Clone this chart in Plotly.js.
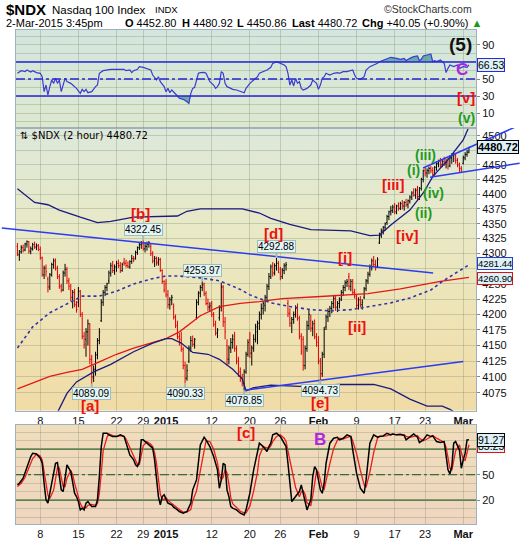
<!DOCTYPE html>
<html>
<head>
<meta charset="utf-8">
<script src="https://cdn.plot.ly/plotly-3.0.1.min.js"></script>
<style>
html,body{margin:0;padding:0;background:#fff;}
#chart{width:520px;height:540px;}
</style>
</head>
<body>
<div id="chart"></div>
<script>
// ---- Trading sessions (2-hour bars: 4 per day, 2 on the half day) ----
const sessionDays = ['2014-12-03','2014-12-04','2014-12-05','2014-12-08','2014-12-09','2014-12-10','2014-12-11','2014-12-12',
  '2014-12-15','2014-12-16','2014-12-17','2014-12-18','2014-12-19','2014-12-22','2014-12-23','2014-12-24','2014-12-26',
  '2014-12-29','2014-12-30','2014-12-31','2015-01-02','2015-01-05','2015-01-06','2015-01-07','2015-01-08','2015-01-09',
  '2015-01-12','2015-01-13','2015-01-14','2015-01-15','2015-01-16','2015-01-20','2015-01-21','2015-01-22','2015-01-23',
  '2015-01-26','2015-01-27','2015-01-28','2015-01-29','2015-01-30','2015-02-02','2015-02-03','2015-02-04','2015-02-05',
  '2015-02-06','2015-02-09','2015-02-10','2015-02-11','2015-02-12','2015-02-13','2015-02-17','2015-02-18','2015-02-19',
  '2015-02-20','2015-02-23','2015-02-24','2015-02-25','2015-02-26','2015-02-27','2015-03-02'];
const halfDays = ['2014-12-24'];

// ---- $NDX 2-hour OHLC ----
const opens = [
4312,4298,4303,4310, 4306,4316,4320,4304, 4308,4315,4311,4313, 4307,4293,4265,4276, 4258,4245,4265,4282,
4288,4276,4262,4246, 4240,4268,4274,4255, 4240,4228,4236,4216, 4220,4238,4200,4165, 4160,4172,4185,4128,
4100,4112,4135,4158, 4190,4220,4236,4244, 4255,4268,4280,4272, 4278,4284,4280,4272, 4285,4284,4280,4278,
4287,4292, 4292,4302,4310,4315, 4316,4308,4312,4316, 4312,4300,4288,4292, 4286,4290,4272,4254,
4250,4232,4216,4224, 4212,4196,4182,4164, 4160,4144,4118,4098, 4125,4146,4158,4152, 4195,4220,4235,4244,
4250,4234,4218,4212, 4218,4200,4184,4170, 4195,4212,4245,4188, 4150,4128,4146,4155, 4165,4145,4125,4108,
4098,4090,4108,4136, 4160,4138,4146,4160, 4172,4186,4200,4210, 4215,4228,4246,4262, 4280,4268,4280,4284,
4268,4262,4272,4280, 4218,4202,4186,4192, 4200,4210,4194,4165, 4160,4118,4145,4182, 4190,4178,4185,4164,
4155,4125,4105,4136, 4180,4196,4205,4210, 4218,4226,4212,4218, 4225,4236,4244,4252, 4262,4246,4254,4236,
4226,4215,4224,4216, 4228,4242,4255,4266, 4278,4288,4282,4278, 4318,4330,4338,4344, 4352,4362,4370,4372,
4378,4370,4380,4376, 4384,4380,4386,4382, 4388,4395,4402,4398, 4408,4396,4410,4425, 4440,4436,4440,4444,
4440,4434,4446,4452, 4456,4450,4456,4452, 4455,4448,4462,4466, 4466,4458,4450,4444, 4452.80,4462,4468,4472];
const highs = [
4318,4306,4314,4315, 4318,4322,4321,4312, 4318,4320,4317,4316, 4312,4295,4280,4282, 4262,4268,4285,4292,
4292,4280,4266,4250, 4272,4283,4278,4260, 4250,4240,4242,4222, 4245,4240,4204,4172, 4178,4192,4186,4135,
4118,4140,4162,4178, 4225,4240,4248,4252, 4272,4285,4288,4282, 4288,4290,4286,4285, 4293,4290,4287,4289,
4298,4296, 4305,4312,4318,4321, 4322.45,4318,4320,4321, 4316,4304,4296,4295, 4294,4293,4274,4256,
4258,4240,4228,4232, 4218,4200,4190,4170, 4172,4148,4124,4120, 4150,4165,4166,4162, 4225,4238,4248,4253.97,
4252,4238,4226,4220, 4222,4204,4190,4178, 4215,4252,4248,4196, 4160,4150,4162,4168, 4172,4150,4132,4115,
4105,4112,4140,4160, 4172,4150,4168,4185, 4190,4205,4218,4222, 4232,4250,4268,4282, 4286,4284,4292.88,4288,
4278,4276,4284,4286, 4224,4210,4196,4205, 4215,4218,4198,4170, 4165,4150,4190,4208, 4200,4190,4192,4170,
4165,4130,4140,4180, 4200,4210,4214,4222, 4232,4230,4222,4228, 4240,4248,4256,4258, 4268,4258,4258,4242,
4232,4228,4230,4225, 4245,4258,4270,4282, 4292,4296,4290,4294, 4335,4342,4346,4352, 4365,4372,4380,4382,
4385,4382,4386,4387, 4390,4388,4392,4391, 4398,4405,4410,4410, 4414,4412,4428,4442, 4446,4444,4447,4448,
4446,4448,4456,4459, 4462,4460,4464,4460, 4462,4466,4470,4472, 4470,4462,4454,4448, 4466,4472,4476,4480.92];
const lows = [
4296,4288,4300,4302, 4304,4310,4300,4299, 4305,4308,4306,4304, 4290,4262,4258,4262, 4236,4240,4262,4275,
4272,4258,4242,4236, 4238,4262,4250,4240, 4222,4210,4212,4203, 4212,4196,4160,4145, 4132,4150,4120,4089.09,
4092,4102,4128,4152, 4188,4214,4230,4238, 4250,4262,4268,4265, 4270,4276,4268,4270, 4280,4277,4276,4275,
4283,4286, 4290,4298,4306,4308, 4305,4302,4305,4310, 4296,4284,4278,4280, 4280,4270,4250,4236,
4228,4210,4208,4215, 4192,4178,4160,4150, 4140,4112,4090.33,4094, 4122,4140,4148,4145, 4192,4215,4228,4238,
4230,4215,4206,4204, 4196,4180,4166,4162, 4190,4205,4180,4160, 4118,4120,4138,4145, 4140,4120,4100,4092,
4085,4078.85,4105,4132, 4130,4118,4140,4155, 4152,4175,4192,4200, 4205,4222,4240,4258, 4262,4264,4272,4268,
4256,4258,4266,4272, 4196,4180,4170,4185, 4195,4190,4160,4135, 4110,4112,4140,4175, 4172,4165,4160,4148,
4120,4094.73,4100,4130, 4175,4188,4196,4202, 4210,4206,4204,4210, 4222,4230,4238,4245, 4240,4238,4232,4226,
4210,4208,4212,4208, 4225,4238,4250,4262, 4272,4278,4272,4276, 4316,4326,4332,4338, 4348,4356,4364,4368,
4366,4366,4372,4373, 4374,4372,4378,4376, 4384,4390,4396,4392, 4388,4390,4406,4420, 4430,4428,4434,4436,
4430,4432,4440,4446, 4444,4446,4448,4444, 4442,4446,4452,4455, 4452,4446,4438,4436, 4450.86,4458,4464,4470];
const closes = [
4298,4303,4310,4306, 4316,4320,4304,4308, 4315,4311,4313,4307, 4293,4265,4276,4270, 4245,4265,4282,4288,
4276,4262,4246,4240, 4268,4274,4255,4246, 4228,4236,4216,4208, 4238,4200,4165,4152, 4172,4185,4128,4100,
4112,4135,4158,4172, 4220,4236,4244,4250, 4268,4280,4272,4278, 4284,4280,4272,4282, 4284,4280,4278,4287,
4292,4290, 4302,4310,4315,4318, 4308,4312,4316,4318, 4300,4288,4292,4284, 4290,4272,4254,4240,
4232,4216,4224,4228, 4196,4182,4164,4155, 4144,4118,4098,4110, 4146,4158,4152,4160, 4220,4235,4244,4248,
4234,4218,4212,4214, 4200,4184,4170,4175, 4212,4245,4188,4172, 4128,4146,4155,4160, 4145,4125,4108,4100,
4090,4108,4136,4155, 4138,4146,4160,4180, 4186,4200,4210,4218, 4228,4246,4262,4278, 4268,4280,4284,4274,
4262,4272,4280,4282, 4202,4186,4192,4200, 4210,4194,4165,4140, 4118,4145,4182,4200, 4178,4185,4164,4150,
4125,4105,4136,4176, 4196,4205,4210,4218, 4226,4212,4218,4222, 4236,4244,4252,4254, 4246,4254,4236,4230,
4215,4224,4216,4220, 4242,4255,4266,4278, 4288,4282,4278,4290, 4330,4338,4344,4350, 4362,4370,4372,4378,
4370,4380,4376,4384, 4380,4386,4382,4389, 4395,4402,4398,4406, 4396,4410,4425,4440, 4436,4440,4444,4441,
4434,4446,4452,4456, 4450,4456,4452,4455, 4448,4462,4466,4468, 4458,4450,4444,4440.67, 4462,4468,4472,4480.72];

// ---- Overlays on price: [bar, value] ----
const upperBand = [[0,4409],[9,4386],[16,4382],[22,4373],[33,4361],[42,4352],[49,4354],[55,4358],[61,4361],[84,4363],
  [89,4371],[96,4375],[118,4375],[127,4368],[133,4359],[143,4349],[154,4340],[175,4338],[185,4330],[190,4331],
  [196,4348],[206,4373],[213,4402],[218,4430],[226,4459],[234,4493],[237,4516]];
const lowerBand = [[17,4020],[22,4049],[26,4074],[31,4092],[40,4108],[49,4120],[61,4140],[71,4154],[78,4161],[81,4161],
  [86,4154],[92,4139],[100,4136],[106,4128],[113,4112],[118,4097],[120,4078],[124,4083],[133,4087],[148,4085],
  [169,4088],[187,4088],[196,4081],[206,4065],[215,4054],[223,4054],[227,4049],[237,4030]];
const maDotted = [[0,4146],[8,4180],[17,4203],[26,4218],[34,4230],[43,4230],[52,4238],[61,4250],[70,4258],[78,4263],
  [85,4263],[96,4260],[106,4255],[117,4241],[122,4232],[133,4219],[143,4213],[154,4208],[164,4206],[175,4208],
  [185,4213],[196,4219],[206,4227],[217,4240],[223,4254],[237,4281.44]];
const maRed = [[0,4081],[8,4091],[17,4101],[26,4107],[34,4112],[43,4124],[52,4136],[61,4146],[70,4154],[78,4161],
  [85,4172],[96,4198],[106,4213],[117,4218],[127,4221],[139,4226],[157,4229],[184,4234],[201,4242],[222,4254],[237,4260.90]];

// ---- Trendlines: [bar, price] endpoints ----
const trendDown = [[-8.2,4343],[218.2,4268]];
const trendUp = [[119,4078.85],[234,4124.5]];
const wedgeTop = [[212.9,4444.7],[263.6,4519]];
const wedgeBottom = [[216.6,4429],[263.6,4453]];

// ---- RSI(14): [bar, value] ----
const rsi = [[0,56.7],[2,59.8],[4,58.6],[5,60.6],[7,58.2],[8,59.8],[10,57.5],[12,56.7],[13,52.7],[14,35.1],[15,42.9],
  [16,31.2],[17,41],[18,48.8],[19,44.9],[20,50.8],[21,44.9],[22,48.8],[23,35.1],[24,42.9],[25,50.8],[26,46.9],[28,44.9],
  [29,42.9],[31,39],[33,33.1],[34,37.8],[35,35.1],[36,37.8],[37,33.9],[39,35.1],[41,41],[42,42.9],[43,56.7],[45,59.8],
  [49,61.4],[52,61.4],[56,61.4],[57,59.8],[59,60.6],[60,57.5],[61,59.8],[63,61.4],[64,64.5],[66,63.7],[68,62.5],[70,60.6],
  [71,54.7],[73,48.8],[74,52.7],[75,46.9],[77,41],[78,35.1],[79,39],[80,33.9],[81,37.1],[82,35.1],[84,30],[85,27.3],
  [87,26.1],[89,23.3],[90,21.4],[91,33.1],[92,39],[93,40.2],[94,48.8],[95,56.7],[96,57.5],[98,57.8],[99,56.7],[100,52.7],
  [101,46.9],[103,42.9],[104,39],[105,41],[106,44.9],[107,58.6],[108,56.7],[109,44.9],[110,41],[112,39],[113,37.8],
  [115,37.1],[117,35.1],[119,33.9],[120,39],[122,44.9],[124,48.8],[126,52.7],[127,56.7],[129,58.6],[131,60.6],[133,63.7],
  [134,68.4],[136,70.4],[138,68.4],[140,66.5],[141,64.5],[142,56.7],[143,42.9],[144,48.8],[145,41.8],[146,50.8],[147,44.9],
  [148,46.9],[149,39],[150,37.1],[152,39],[154,42.9],[155,48.8],[157,44.9],[158,37.8],[159,42.9],[160,50.8],[161,52.7],
  [162,56.7],[164,54.7],[166,56.7],[168,57.5],[169,56.7],[171,58.6],[173,58.6],[175,59.8],[176,60.6],[177,54.7],[178,50.8],
  [180,49.6],[182,52.7],[183,60.6],[185,64.5],[187,66.5],[189,68.4],[190,70.4],[192,72.4],[194,74.3],[196,75.5],[199,74.3],
  [201,73.1],[203,74.3],[204,71.6],[206,74.3],[208,76.3],[210,77.1],[211,71.6],[212,73.1],[213,77.1],[215,78.2],[217,79.4],
  [218,70.4],[219,71.6],[220,70.4],[222,72.4],[224,68.4],[225,57.5],[226,62.5],[227,66.5],[229,64.5],[231,66.5],[232,62.5],
  [234,64.5],[236,63.7],[237,66.53]];

// ---- Slow stochastic %K and %D: [bar, value] ----
const stochK = [[0,38],[1,40],[3,45.9],[5,59.6],[7,71.4],[8,75.3],[10,74.5],[12,69.4],[13,63.5],[14,40],[15,20.4],[16,16.5],
  [17,28.2],[19,47.8],[20,63.5],[21,64.3],[22,47.8],[23,32.2],[24,30.2],[25,47.8],[26,61.6],[28,53.7],[29,40],[30,28.2],
  [31,24.3],[32,18.4],[33,8.6],[34,10.6],[35,8.6],[36,16.5],[37,18.4],[39,12.5],[41,12.5],[42,20.4],[43,47.8],[44,83.1],
  [45,98.8],[47,98.8],[48,96.9],[50,94.9],[52,94.9],[54,96.9],[56,94.9],[57,87.1],[59,73.3],[61,67.5],[62,61.6],[63,59.6],
  [64,65.5],[65,91],[66,91],[68,87.1],[70,83.1],[71,81.2],[72,67.5],[73,43.9],[74,24.3],[75,14.5],[76,24.3],[77,26.3],
  [78,20.4],[79,16.5],[81,14.5],[82,11.8],[84,8.6],[85,6.7],[87,4.7],[89,6.7],[91,16.5],[92,32.2],[94,43.9],[96,85.1],
  [98,94.1],[99,91],[101,83.1],[103,71.4],[105,55.7],[106,34.1],[107,43.9],[108,63.5],[109,61.6],[110,32.2],[111,24.3],
  [112,12.5],[113,10.6],[115,8.6],[117,4.7],[119,2.7],[120,8.6],[122,28.2],[124,55.7],[126,75.3],[127,87.1],[129,83.1],
  [131,77.3],[132,83.1],[133,87.1],[134,96.9],[136,98.8],[138,94.9],[140,87.1],[141,83.1],[142,63.5],[144,18.4],[146,24.3],
  [148,30.2],[149,38],[150,28.2],[151,14.5],[152,8.6],[154,20.4],[155,47.8],[156,59.6],[157,55.7],[158,43.9],[159,32.2],
  [160,28.2],[161,40],[162,63.5],[164,87.1],[166,92.9],[168,94.1],[169,91],[171,92.9],[173,96.9],[175,94.9],[176,79.2],
  [178,51.8],[180,34.1],[182,28.2],[183,43.9],[185,87.1],[187,96.9],[189,94.1],[190,94.9],[192,95.7],[194,98.8],[196,96.9],
  [197,98],[199,96.9],[201,97.6],[203,96.1],[204,91],[206,94.9],[208,98],[210,94.1],[211,87.8],[213,91],[215,96.9],
  [217,94.9],[218,95.7],[220,89],[222,87.8],[224,89],[225,69.4],[226,55.7],[227,51],[228,59.6],[229,87.1],[230,89],
  [232,79.2],[233,57.6],[234,67.5],[235,75.3],[236,91],[237,91.27]];
const stochD = [[0,36],[2,40],[4,47],[6,58],[8,69],[10,74],[12,72],[13,67],[14,55],[15,40],[16,26],[17,22],[19,32],[20,46],
  [21,58],[22,58],[23,48],[24,36],[25,36],[26,46],[28,55],[29,50],[30,40],[31,30],[32,24],[33,16],[34,12],[36,11],[37,14],
  [39,15],[41,14],[42,16],[43,28],[44,52],[45,78],[47,94],[48,98],[50,96],[52,95],[54,96],[56,95],[57,92],[59,82],[61,72],
  [62,66],[63,62],[64,62],[65,72],[66,84],[68,89],[70,86],[71,83],[72,76],[73,63],[74,44],[75,27],[76,21],[77,21],[78,23],
  [79,20],[81,16],[82,14],[84,11],[85,9],[87,6],[89,6],[91,9],[92,19],[94,31],[96,55],[98,80],[99,90],[101,89],[103,80],
  [105,64],[106,50],[107,44],[108,47],[109,56],[110,52],[111,39],[112,23],[113,16],[115,11],[117,7],[119,5],[120,5],
  [122,13],[124,31],[126,53],[127,72],[129,83],[131,82],[132,81],[133,84],[134,89],[136,95],[138,97],[140,93],[141,89],
  [142,78],[144,55],[146,35],[148,24],[149,30],[150,31],[151,27],[152,17],[154,14],[155,25],[156,42],[157,54],[158,53],
  [159,45],[160,35],[161,33],[162,44],[164,63],[166,81],[168,91],[169,93],[171,92],[173,94],[175,95],[176,90],[178,75],
  [180,55],[182,38],[183,35],[185,53],[187,76],[189,93],[190,95],[192,95],[194,96],[196,97],[197,98],[199,97],[201,97],
  [203,97],[204,95],[206,94],[208,95],[210,96],[211,93],[213,90],[215,92],[217,95],[218,96],[220,93],[222,90],[224,88],
  [225,82],[226,71],[227,58],[228,55],[229,66],[230,78],[232,85],[233,75],[234,68],[235,67],[236,78],[237,85.25]];

// ---- Axis labels ----
const tickDays = ['2014-12-08','2014-12-15','2014-12-22','2014-12-29','2015-01-02','2015-01-12','2015-01-20',
  '2015-01-26','2015-02-02','2015-02-09','2015-02-17','2015-02-23','2015-03-02'];
const tickText = ['8','15','22','29','<b>2015</b>','12','20','26','<b>Feb</b>','9','17','23','<b>Mar</b>'];
const priceTicks = [4075,4100,4125,4150,4175,4200,4225,4250,4275,4300,4325,4350,4375,4400,4425,4450,4475,4500];
const priceTickHidden = [4275, 4475];
const rsiTicks = [10, 30, 50, 70, 90];
const stochTicks = [20, 50, 80];
const rsiLevels = [70, 50, 30];
const stochLevels = [80, 50, 20];

// ---- Elliott wave labels ----
const redWaves = [['[b]',64.4,4368],['[d]',134.2,4334],['[i]',171.9,4294],['[ii]',178.3,4180],['[iii]',197.2,4416],
  ['[iv]',205,4331],['[e]',158.8,4060]];
const greenWaves = [['(i)',207.7,4442],['(ii)',212.9,4368],['(iii)',214,4467],['(iv)',218.2,4402]];

// ---------------------------------------------------------------
const dayStart = {};
let barCount = 0;
sessionDays.forEach(d => { dayStart[d] = barCount; barCount += halfDays.includes(d) ? 2 : 4; });
const barIdx = closes.map((_, i) => i);
const tickIdx = tickDays.map(d => dayStart[d]);

const W = 520, H = 540, L = 16, R = 476;
const py = p => 1 - p / H;
const xDom = [L / W, R / W];
const topDom = [py(128), py(30)];
const mainDom = [py(410.7), py(128)];
const botDom = [py(524), py(425)];
const xRange = [-0.75, 240.7];
// position along the shared bar axis, expressed as a fraction of the figure width
const barToPaper = i => xDom[0] + (i - xRange[0]) / (xRange[1] - xRange[0]) * (xDom[1] - xDom[0]);
const lg = Math.log10;

const FONT = 'Liberation Sans, Arial, sans-serif';
const gridCol = 'rgba(125,140,115,0.33)';
const frameCol = '#9fb1bd';
const xs = a => a.map(p => p[0]);
const ys = a => a.map(p => p[1]);

const traces = [];
// RSI panel
traces.push({type:'scatter', mode:'lines', x: xs(rsi), y: rsi.map(() => 70), xaxis:'x2', yaxis:'y', line:{width:0}, hoverinfo:'skip'});
traces.push({type:'scatter', mode:'lines', x: xs(rsi), y: rsi.map(p => Math.max(p[1], 70)), xaxis:'x2', yaxis:'y',
  line:{width:0}, fill:'tonexty', fillcolor:'rgba(70,150,150,0.75)', hoverinfo:'skip'});
traces.push({type:'scatter', mode:'lines', x: xs(rsi), y: rsi.map(() => 30), xaxis:'x2', yaxis:'y', line:{width:0}, hoverinfo:'skip'});
traces.push({type:'scatter', mode:'lines', x: xs(rsi), y: rsi.map(p => Math.min(p[1], 30)), xaxis:'x2', yaxis:'y',
  line:{width:0}, fill:'tonexty', fillcolor:'rgba(70,150,150,0.75)', hoverinfo:'skip'});
traces.push({type:'scatter', mode:'lines', x: xs(rsi), y: ys(rsi), xaxis:'x2', yaxis:'y', line:{color:'#3b3bd0', width:1.2}});

// price panel overlays
traces.push({type:'scatter', mode:'lines', x: xs(maRed), y: ys(maRed), xaxis:'x', yaxis:'y2', line:{color:'#e41818', width:1.3}});
traces.push({type:'scatter', mode:'lines', x: xs(maDotted), y: ys(maDotted), xaxis:'x', yaxis:'y2', line:{color:'#3333aa', width:1.6, dash:'dot'}});
traces.push({type:'scatter', mode:'lines', x: xs(upperBand), y: ys(upperBand), xaxis:'x', yaxis:'y2', line:{color:'#1a1a80', width:1.3}});
traces.push({type:'scatter', mode:'lines', x: xs(lowerBand), y: ys(lowerBand), xaxis:'x', yaxis:'y2', line:{color:'#1a1a80', width:1.3}});
traces.push({type:'scatter', mode:'lines', x: xs(trendUp), y: ys(trendUp), xaxis:'x', yaxis:'y2', line:{color:'#2a3cf0', width:1.5}});
traces.push({type:'ohlc', x: barIdx, open: opens, high: highs, low: lows, close: closes, xaxis:'x', yaxis:'y2',
  increasing:{line:{color:'#000000', width:1}}, decreasing:{line:{color:'#e00000', width:1}}, tickwidth:0.45, hoverinfo:'skip'});

// stochastic panel
traces.push({type:'scatter', mode:'lines', x: xs(stochD), y: ys(stochD), xaxis:'x3', yaxis:'y3', line:{color:'#ee1c1c', width:1.3}});
traces.push({type:'scatter', mode:'lines', x: xs(stochK), y: ys(stochK), xaxis:'x3', yaxis:'y3', line:{color:'#000000', width:1.5}});

// ---- backgrounds ----
function grad(stops) {
  const s = stops.map(([o, c]) => `<stop offset="${o}" stop-color="${c}"/>`).join('');
  const svg = `<svg xmlns="http://www.w3.org/2000/svg" width="10" height="100" viewBox="0 0 10 100" preserveAspectRatio="none">` +
    `<defs><linearGradient id="g" x1="0" y1="0" x2="0" y2="1">${s}</linearGradient></defs>` +
    `<rect x="0" y="0" width="10" height="100" fill="url(#g)"/></svg>`;
  return 'data:image/svg+xml;charset=utf-8,' + encodeURIComponent(svg);
}
const bgImg = (src, dom) => ({source: src, xref:'paper', yref:'paper', x: xDom[0], y: dom[1], sizex: xDom[1] - xDom[0],
  sizey: dom[1] - dom[0], xanchor:'left', yanchor:'top', sizing:'stretch', layer:'below'});
const images = [
  bgImg(grad([[0,'#d3e6de'],[1,'#dde8cf']]), topDom),
  bgImg(grad([[0,'#dde8da'],[0.35,'#e8e9c6'],[0.7,'#efe3b4'],[1,'#f0dba6']]), mainDom),
  bgImg(grad([[0,'#f0ddbb'],[1,'#efd6c0']]), botDom)
];

// ---- axes ----
const xBase = {range: xRange, domain: xDom, tickvals: tickIdx, ticktext: tickText, showgrid: true, gridcolor: gridCol,
  zeroline: false, showline: true, mirror: true, linecolor: frameCol, linewidth: 1, ticks: '',
  tickfont: {family: FONT, size: 11, color: '#111'}, fixedrange: true, rangeslider: {visible: false}};
const yBase = {side: 'right', showgrid: true, gridcolor: gridCol, zeroline: false, showline: true, mirror: true,
  linecolor: frameCol, linewidth: 1, ticks: 'outside', ticklen: 3, tickcolor: '#888',
  tickfont: {family: FONT, size: 11, color: '#111'}, fixedrange: true};

const shapes = [];
rsiLevels.forEach(v => shapes.push({type:'line', xref:'paper', x0: xDom[0], x1: xDom[1], yref:'y', y0:v, y1:v, layer:'above',
  line:{color:'#2626d4', width:1.3, dash: v === 50 ? 'dashdot' : 'solid'}}));
stochLevels.forEach(v => shapes.push({type:'line', xref:'paper', x0: xDom[0], x1: xDom[1], yref:'y3', y0:v, y1:v, layer:'below',
  line:{color:'#1c5c1c', width:1.3, dash: v === 50 ? 'dashdot' : 'solid'}}));
// hand-drawn trendlines, allowed to run past the plot frame
[trendDown, wedgeTop, wedgeBottom].forEach(t => shapes.push({type:'line', xref:'paper', yref:'y2',
  x0: barToPaper(t[0][0]), x1: barToPaper(t[1][0]), y0: t[0][1], y1: t[1][1], layer:'above',
  line:{color:'#2a3cf0', width:1.5}}));

// ---- annotations ----
const ann = [];
const hdr = (text, x, y, size, color) => ann.push({xref:'paper', yref:'paper', x: x / W, y: py(y),
  xanchor:'left', yanchor:'middle', text, showarrow:false, font:{family: FONT, size, color: color || '#000'}});

const last = closes.length - 1;
const dayFirst = dayStart['2015-03-02'];
const dOpen = opens[dayFirst];
const dHigh = Math.max(...highs.slice(dayFirst));
const dLow = Math.min(...lows.slice(dayFirst));
const prevClose = closes[dayFirst - 1];
const chg = closes[last] - prevClose;
const pct = chg / prevClose * 100;

hdr('<b>$NDX</b>', 4, 10, 15);
hdr('Nasdaq 100 Index', 50, 10, 11.5);
hdr('INDX', 153, 10, 9.5);
hdr('©StockCharts.com', 382, 9, 10.5, '#333');
hdr('2-Mar-2015 3:45pm', 4, 23, 11);
hdr('<b>O</b> ' + dOpen.toFixed(2), 123, 23, 11);
hdr('<b>H</b> ' + dHigh.toFixed(2), 180, 23, 11);
hdr('<b>L</b> ' + dLow.toFixed(2), 235, 23, 11);
hdr('<b>Last</b> ' + closes[last].toFixed(2), 290, 23, 11);
hdr('<b>Chg</b> +' + chg.toFixed(2) + ' (+' + pct.toFixed(2) + '%) <span style="color:#1a9a1a">▲</span>', 360, 23, 11);
ann.push({xref:'paper', yref:'paper', x: 18 / W, y: py(135), xanchor:'left', yanchor:'middle', showarrow:false,
  text:'⇅ $NDX (2 hour) ' + closes[last].toFixed(2), font:{family:'DejaVu Sans, Verdana, sans-serif', size:10, color:'#000'}});

// high / low callouts
const callouts = [[39,'low'],[66,'high'],[88,'low'],[97,'high'],[119,'low'],[136,'high'],[159,'low']];
callouts.forEach(([b, kind]) => {
  const v = kind === 'high' ? highs[b] : lows[b];
  ann.push({xref:'x', yref:'y2', x: b, y: lg(v), text: v.toFixed(2), showarrow:true, arrowhead:0, arrowwidth:2,
    arrowcolor:'#9dbcbc', ax: 0, ay: kind === 'high' ? -11 : 10, bgcolor:'#e3f5f4', bordercolor:'#9dbcbc',
    borderwidth:1, borderpad:0, font:{family: FONT, size:10, color:'#000'}});
});

// wave counts
redWaves.forEach(([t, b, p]) => ann.push({xref:'x', yref:'y2', x: b, y: lg(p), text:'<b>' + t + '</b>', showarrow:false,
  font:{family: FONT, size:15, color:'#ee1111'}}));
greenWaves.forEach(([t, b, p]) => ann.push({xref:'x', yref:'y2', x: b, y: lg(p), text:'<b>' + t + '</b>', showarrow:false,
  font:{family: FONT, size:14, color:'#1f9a1f'}}));
ann.push({xref:'x', yref:'paper', x: 38.1, y: py(416), text:'<b>[a]</b>', showarrow:false, font:{family: FONT, size:15, color:'#ee1111'}});
ann.push({xref:'x2', yref:'y', x: 235.5, y: 4.1, text:'<b>(v)</b>', showarrow:false, font:{family: FONT, size:14, color:'#1f9a1f'}});
ann.push({xref:'x2', yref:'y', x: 235.5, y: 28.8, text:'<b>[v]</b>', showarrow:false, font:{family: FONT, size:15, color:'#ee1111'}});
ann.push({xref:'x2', yref:'y', x: 233.4, y: 61.5, text:'<b>C</b>', showarrow:false, font:{family: FONT, size:17, color:'#b025e0'}});
ann.push({xref:'x2', yref:'y', x: 232.3, y: 90, text:'<b>(5)</b>', showarrow:false, font:{family: FONT, size:19, color:'#111'}});
ann.push({xref:'x3', yref:'y3', x: 120, y: 99.2, text:'<b>[c]</b>', showarrow:false, font:{family: FONT, size:15, color:'#ee1111'}});
ann.push({xref:'x3', yref:'y3', x: 158.8, y: 90.9, text:'<b>B</b>', showarrow:false, font:{family: FONT, size:17, color:'#b025e0'}});

// last-value boxes on the right axis
const box = (text, yref, y, border, bold, size, shift) => ann.push({xref:'paper', x: (R + 1) / W, xanchor:'left', yref, y,
  yanchor:'middle', yshift: shift || 0, text: bold ? '<b>' + text + '</b>' : text, showarrow:false, bgcolor:'#dcf1f8',
  bordercolor: border, borderwidth:1, borderpad:0, font:{family: FONT, size: size || 10.5, color:'#000'}});
box(rsi[rsi.length - 1][1].toFixed(2), 'y', rsi[rsi.length - 1][1], '#2a2ad6', false);
box(closes[last].toFixed(2), 'y2', lg(closes[last]), '#000', true, 11);
box(maDotted[maDotted.length - 1][1].toFixed(2), 'y2', lg(maDotted[maDotted.length - 1][1]), '#2a3ccc', false, 9.5, 1);
box(maRed[maRed.length - 1][1].toFixed(2), 'y2', lg(maRed[maRed.length - 1][1]), '#e01010', false, 9.5, -1);
box(stochD[stochD.length - 1][1].toFixed(2), 'y3', stochD[stochD.length - 1][1] - 2, '#e01010', false);
box(stochK[stochK.length - 1][1].toFixed(2), 'y3', stochK[stochK.length - 1][1], '#000', false);

const layout = {
  width: W, height: H, margin: {l:0, r:0, t:0, b:0}, paper_bgcolor:'#ffffff', plot_bgcolor:'rgba(0,0,0,0)',
  showlegend: false, hovermode: false, dragmode: false,
  xaxis: Object.assign({}, xBase, {anchor:'y2', showticklabels: true}),
  xaxis2: Object.assign({}, xBase, {anchor:'y', showticklabels: false}),
  xaxis3: Object.assign({}, xBase, {anchor:'y3', showticklabels: true}),
  yaxis: Object.assign({}, yBase, {domain: topDom, anchor:'x2', range:[-7.6, 107.6], tickvals: rsiTicks,
    ticktext: rsiTicks.map(v => v === 70 ? '' : String(v)),
    minor:{tickvals:[0,20,40,60,80,100], showgrid:true, gridcolor: gridCol, ticks:''}}),
  yaxis2: Object.assign({}, yBase, {domain: mainDom, anchor:'x', type:'log', range:[lg(4046.8), lg(4513.9)],
    tickvals: priceTicks, ticktext: priceTicks.map(v => priceTickHidden.includes(v) ? '' : String(v))}),
  yaxis3: Object.assign({}, yBase, {domain: botDom, anchor:'x3', range:[-8, 108.5], tickvals: stochTicks,
    ticktext: stochTicks.map(v => v === 80 ? '' : String(v)),
    minor:{tickvals:[0,10,30,40,60,70,90,100], showgrid:true, gridcolor: gridCol, ticks:''}}),
  images, shapes, annotations: ann
};

Plotly.newPlot('chart', traces, layout, {staticPlot: true, displayModeBar: false});
</script>
</body>
</html>
